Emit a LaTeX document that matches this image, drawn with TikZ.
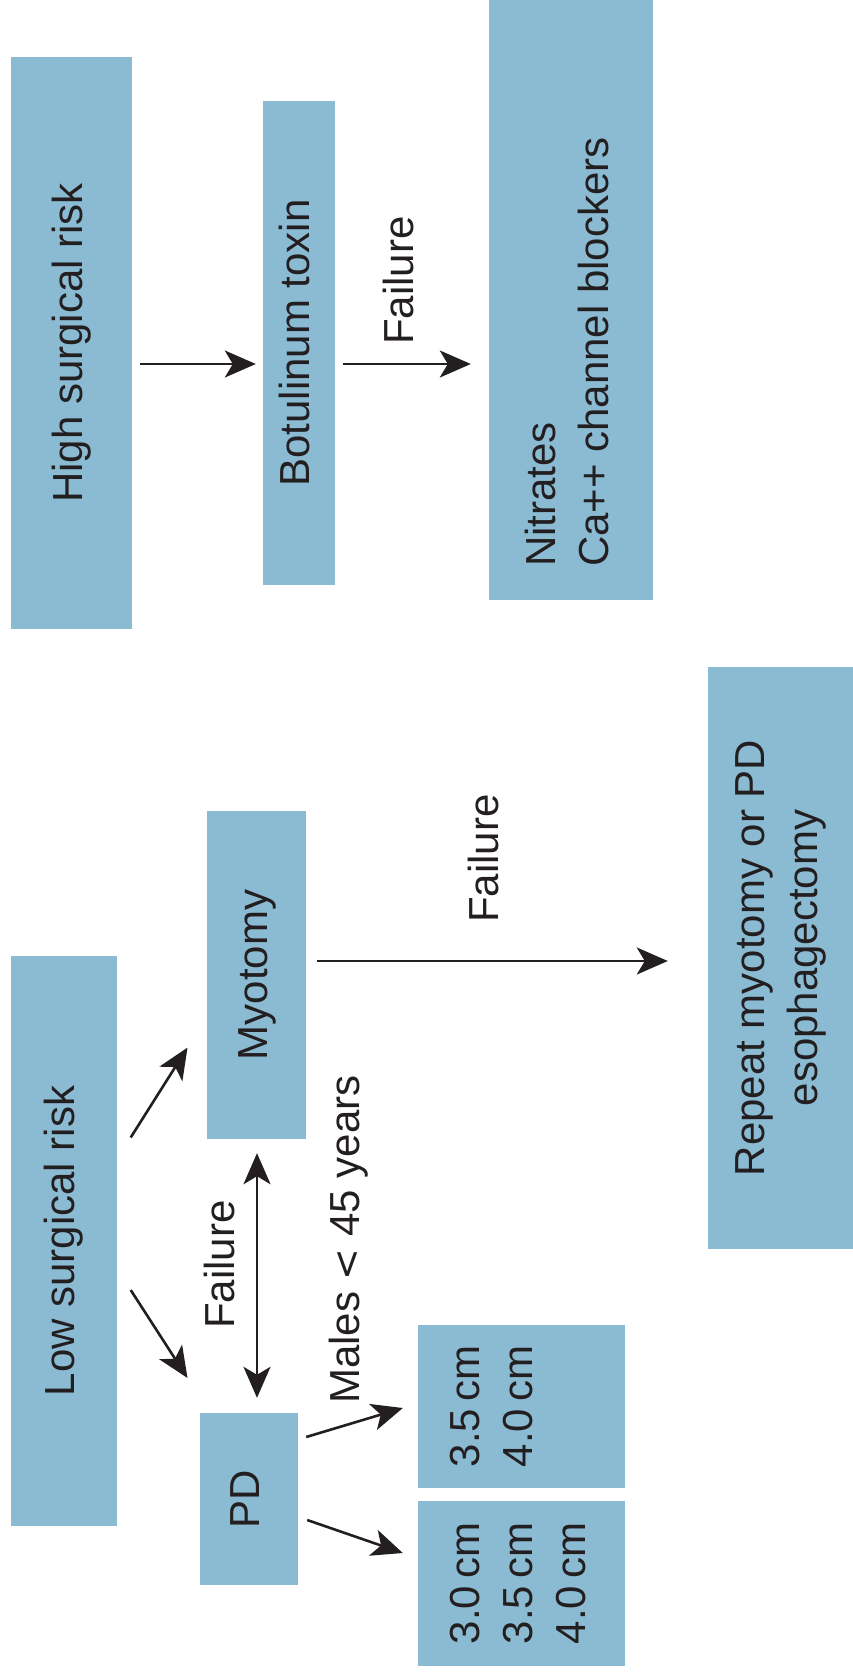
\documentclass[tikz,border=0pt]{standalone}
\usepackage{fontspec}
\setmainfont{Liberation Sans}
\usetikzlibrary{arrows.meta}
\definecolor{boxblue}{RGB}{139,187,211}
\definecolor{ink}{RGB}{35,31,32}
\newcommand{\rotl}[1]{\rotatebox{90}{\begin{tabular}{@{}l@{}}#1\end{tabular}}}
\newcommand{\rotc}[1]{\rotatebox{90}{\begin{tabular}{@{}c@{}}#1\end{tabular}}}
\begin{document}
\begin{tikzpicture}[x=1pt,y=-1pt,
  every node/.style={font=\fontsize{42}{53}\selectfont, text=ink},
  box/.style={fill=boxblue, draw=none, inner sep=0pt},
  lbl/.style={rotate=90, anchor=base west, inner sep=0pt},
  arr/.style={draw=ink, line width=2.6pt, -{Stealth[length=31pt,width=27pt,inset=8pt]}},
  darr/.style={draw=ink, line width=2.6pt, {Stealth[length=31pt,width=27pt,inset=8pt]}-{Stealth[length=31pt,width=27pt,inset=8pt]}}]
\path[use as bounding box, fill=white] (0,0) rectangle (853,1674);

% boxes
\node[box, minimum width=121pt, minimum height=572pt] (hsr) at (71.5,343) {\rotc{High surgical risk}};
\node[box, minimum width=72pt, minimum height=484pt] (bot) at (299,343) {\rotc{Botulinum toxin}};
\node[box, minimum width=164pt, minimum height=600pt] (nit) at (571,300) {\rotatebox{90}{\begin{tabular}{@{}l@{}}Nitrates\\Ca++ channel blockers\end{tabular}\hspace*{104pt}}};
\node[box, minimum width=106pt, minimum height=570pt] (lsr) at (64,1241) {\rotc{Low surgical risk}};
\node[box, minimum width=99pt, minimum height=328pt] (myo) at (256.5,975) {\rotc{Myotomy}};
\node[box, minimum width=145pt, minimum height=582pt] (rep) at (780.5,958) {\rotc{Repeat myotomy or PD\\esophagectomy}};
\node[box, minimum width=98pt, minimum height=172pt] (pd) at (249,1499) {\rotc{PD}};
\node[box, minimum width=207pt, minimum height=163pt] (b35) at (521.5,1406.5) {\rotl{3.5\,cm\\4.0\,cm\\\mbox{}}};
\node[box, minimum width=207pt, minimum height=165pt] (b30) at (521.5,1583.5) {\rotl{3.0\,cm\\3.5\,cm\\4.0\,cm}};

% labels
\node[lbl] (f1) at (413,345) {Failure};
\node[lbl] (f2) at (498,923) {Failure};
\node[lbl] (f3) at (234,1329) {Failure};
\node[lbl] (males) at (359,1404) {Males {\fontspec{DejaVu Sans}\fontsize{38}{53}\selectfont<} 45 years};

% connectors
\draw[arr] ([xshift=8pt,yshift=-21pt]hsr.east) -- ([xshift=-7pt,yshift=-21pt]bot.west);
\draw[arr] ([xshift=8pt,yshift=-21pt]bot.east) -- ([xshift=-18pt,yshift=-64pt]nit.west);
\draw[arr] ([xshift=11pt,yshift=14pt]myo.east) -- ([xshift=-40pt,yshift=-3pt]rep.west);
\draw[arr] ([xshift=13.5pt,yshift=103.5pt]lsr.east) -- ([xshift=-19.3pt,yshift=-72.6pt]myo.west);
\draw[arr] ([xshift=13.5pt,yshift=-49pt]lsr.east) -- ([xshift=-12.3pt,yshift=121pt]pd.west);
\draw[darr] ([xshift=0.5pt,yshift=-14pt]myo.south) -- ([xshift=8pt,yshift=15pt]pd.north);
\draw[arr] ([xshift=8pt,yshift=62pt]pd.east) -- ([xshift=-15pt,yshift=-1.5pt]b35.west);
\draw[arr] ([xshift=9pt,yshift=-21pt]pd.east) -- ([xshift=-15pt,yshift=30.5pt]b30.west);
\end{tikzpicture}
\end{document}
